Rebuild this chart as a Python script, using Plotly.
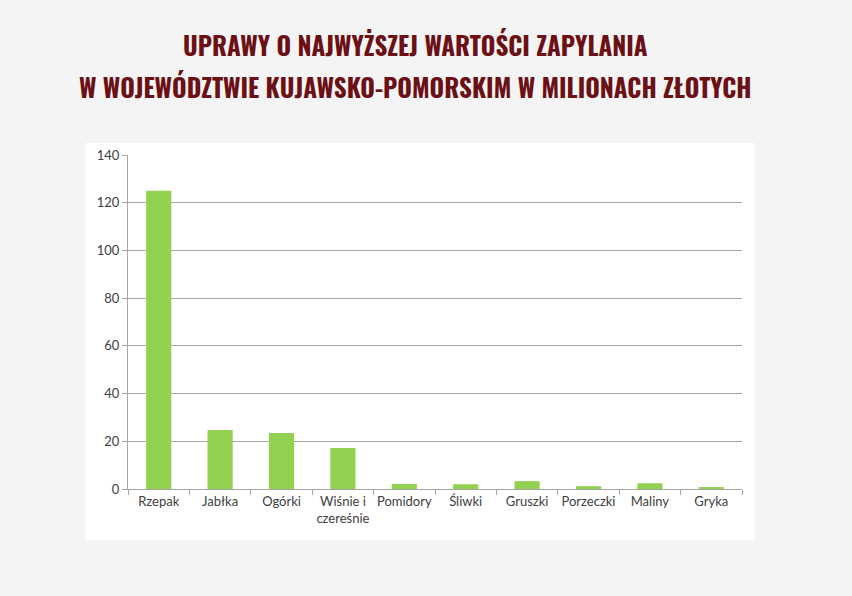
import plotly.graph_objects as go

categories = ["Rzepak", "Jabłka", "Ogórki", "Wiśnie i<br>czereśnie", "Pomidory",
              "Śliwki", "Gruszki", "Porzeczki", "Maliny", "Gryka"]
values = [125, 24.7, 23.5, 17.2, 2.1, 2.0, 3.3, 1.2, 2.4, 0.6]
y_ticks = [0, 20, 40, 60, 80, 100, 120, 140]
title_lines = ["UPRAWY O NAJWYŻSZEJ WARTOŚCI ZAPYLANIA",
               "W WOJEWÓDZTWIE KUJAWSKO-POMORSKIM W MILIONACH ZŁOTYCH"]

W, H = 852, 596
L, R, T, B = 128, 742, 155, 489
pw, ph = R - L, B - T

def px_x(x):
    return (x - L) / pw

def px_y(y):
    return (B - y) / ph

fig = go.Figure()
fig.add_trace(go.Bar(x=categories, y=values, marker_color="#92d050",
                     marker_line_width=0, hoverinfo="x+y"))

tick_font = dict(family="Lato, Open Sans, sans-serif", size=13, color="#404040")

fig.update_layout(
    width=W, height=H,
    margin=dict(l=L, r=W - R, t=T, b=H - B, pad=0),
    paper_bgcolor="#f4f4f4", plot_bgcolor="white",
    bargap=0.59, showlegend=False,
    font=dict(family="Lato, Open Sans, sans-serif", size=13, color="#404040"),
    xaxis=dict(showgrid=False, showline=True, linecolor="#a6a6a6", linewidth=1,
               ticks="outside", tickson="boundaries", ticklen=5, tickcolor="#a6a6a6",
               tickangle=0, tickfont=tick_font, fixedrange=True),
    yaxis=dict(range=[0, 140], tickvals=y_ticks, showgrid=True, gridcolor="#a6a6a6",
               gridwidth=1, showline=True, linecolor="#a6a6a6", linewidth=1,
               ticks="outside", ticklen=5, tickcolor="#a6a6a6", zeroline=False,
               tickfont=tick_font, fixedrange=True),
    shapes=[dict(type="rect", xref="paper", yref="paper", layer="below",
                 x0=px_x(85), x1=px_x(755), y0=px_y(540), y1=px_y(143),
                 fillcolor="white", line_width=0)],
)

for line, yc in zip(title_lines, [45, 86]):
    fig.add_annotation(text="<b>" + line + "</b>", xref="paper", yref="paper",
                       x=px_x(415), y=px_y(yc), xanchor="center", yanchor="middle",
                       showarrow=False,
                       font=dict(family="Oswald, sans-serif", size=25, color="#6b1014"))

fig.write_html("out.html")
